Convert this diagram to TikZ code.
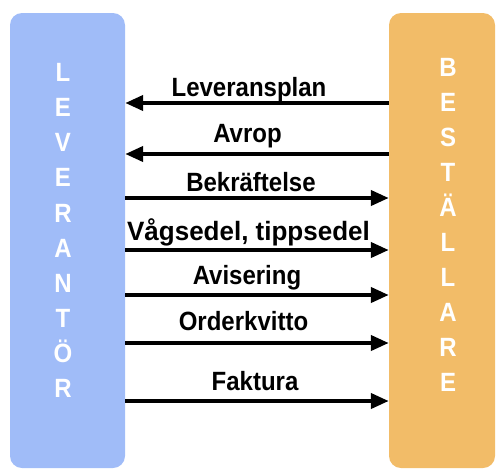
\documentclass[tikz,border=0pt]{standalone}
\usepackage{fontspec}
\setmainfont{Liberation Sans}
\usetikzlibrary{arrows.meta}
\definecolor{levblue}{HTML}{A0BCF8}
\definecolor{besorange}{HTML}{F2BC68}
\newcommand{\tallish}[1]{\scalebox{1}[1.1]{#1}}
\tikzset{
  party/.style={rounded corners=12pt, draw=none, minimum width=#1, inner sep=0pt},
  letter/.style={text=white, font=\fontsize{24}{24}\selectfont\bfseries, anchor=base, inner sep=0pt},
  msg/.style={font=\fontsize{24}{24}\selectfont\bfseries, anchor=base, inner sep=0pt},
  widemsg/.style={msg, font=\fontsize{26}{26}\selectfont\bfseries},
  flow/.style={line width=4pt, -{Triangle[length=18pt,width=15pt]}}
}
\begin{document}
\begin{tikzpicture}[x=1pt,y=-1pt]
\useasboundingbox (0,0) rectangle (497,472);

% the two parties
\node[party=115pt, fill=levblue, minimum height=455pt] (lev) at (67.5,240.5) {};
\node[party=106pt, fill=besorange, minimum height=455pt] (bes) at (442,240.5) {};

% vertical lettering
\foreach \ch [count=\i] in {L,E,V,E,R,A,N,T,Ö,R}
  \node[letter] (lv\i) at (63,{46.5+35.1*\i}) {\tallish{\ch}};
\foreach \ch [count=\i] in {B,E,S,T,Ä,L,L,A,R,E}
  \node[letter] (bs\i) at (448,{41.5+35*\i}) {\tallish{\ch}};

% message labels
\node[msg] (m1) at (249,96)  {\tallish{Leveransplan}};
\node[msg] (m2) at (247.5,142) {\tallish{Avrop}};
\node[msg] (m3) at (251,191) {\tallish{Bekräftelse}};
\node[widemsg] (m4) at (248.5,240) {\scalebox{1}[1.02]{Vågsedel, tippsedel}};
\node[msg] (m5) at (247,284) {\tallish{Avisering}};
\node[msg] (m6) at (243.5,330) {\tallish{Orderkvitto}};
\node[msg] (m7) at (255,390) {\tallish{Faktura}};

% message arrows
\draw[flow] (bes.west |- 0,103) -- (lev.east |- 0,103);
\draw[flow] (bes.west |- 0,154) -- (lev.east |- 0,154);
\draw[flow] (lev.east |- 0,198) -- (bes.west |- 0,198);
\draw[flow] (lev.east |- 0,250) -- (bes.west |- 0,250);
\draw[flow] (lev.east |- 0,295) -- (bes.west |- 0,295);
\draw[flow] (lev.east |- 0,343) -- (bes.west |- 0,343);
\draw[flow] (lev.east |- 0,401) -- (bes.west |- 0,401);
\end{tikzpicture}
\end{document}
